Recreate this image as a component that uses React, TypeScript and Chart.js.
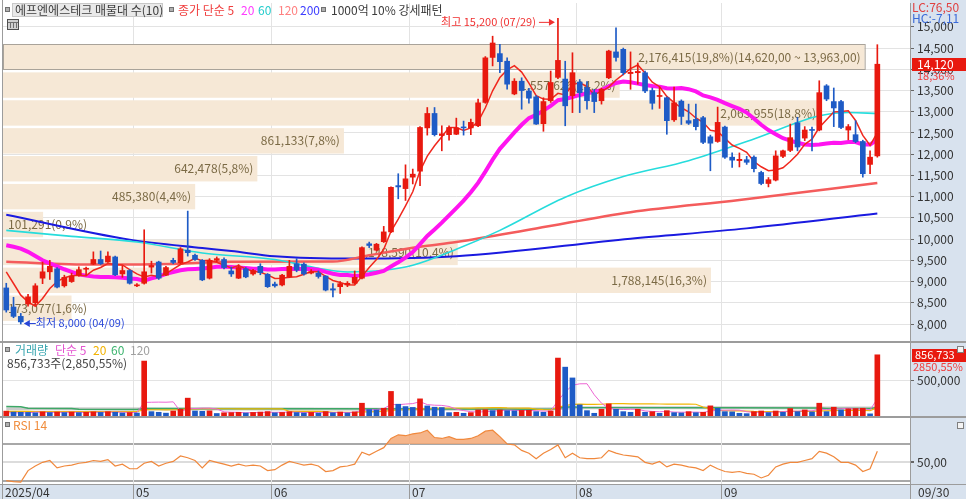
import React, { useEffect, useRef } from 'react';
import { Chart, registerables } from 'chart.js';

Chart.register(...registerables);

const FONT = '"Noto Sans CJK KR", "Noto Sans", sans-serif';
const W = 966;
const XMIN = -0.45;
const XMAX = 124.5;
const AXIS_W = 56;
const PANEL = '#D8E2EE';
const UP = '#E8190F';
const DOWN = '#1E5BC6';
const GRID = '#E3E3E3';
const SEP = '#9C9C9C';

// ---------- categories ----------
const year = '2025';
const monthDays: [string, number[]][] = [
  ['04', [7, 8, 9, 10, 11, 14, 15, 16, 17, 18, 21, 22, 23, 24, 25, 28, 29, 30]],
  ['05', [2, 7, 8, 9, 12, 13, 14, 15, 16, 19, 20, 21, 22, 23, 26, 27, 28, 29, 30]],
  ['06', [2, 4, 5, 9, 10, 11, 12, 13, 16, 17, 18, 19, 20, 23, 24, 25, 26, 27, 30]],
  ['07', [1, 2, 3, 4, 7, 8, 9, 10, 11, 14, 15, 16, 17, 18, 21, 22, 23, 24, 25, 28, 29, 30, 31]],
  ['08', [1, 4, 5, 6, 7, 8, 11, 12, 13, 14, 18, 19, 20, 21, 22, 25, 26, 27, 28, 29]],
  ['09', [1, 2, 3, 4, 5, 8, 9, 10, 11, 12, 15, 16, 17, 18, 19, 22, 23, 24, 25, 26, 29, 30]],
];
const dates: string[] = [];
monthDays.forEach(([m, ds]) => ds.forEach((d) => dates.push(`${m}/${String(d).padStart(2, '0')}`)));

// ---------- price (OHLC) ----------
const opens = [
  8850, 8400, 8180, 8470, 8500, 9080, 9230, 9300, 8900, 9000, 9150, 9290, 9410, 9520, 9460, 9580, 9180, 9260,
  8900, 8960, 9340, 9460, 9150, 9500, 9440, 9740, 9620, 9500, 9080, 9500, 9520, 9250, 9080, 9300, 9180, 9360, 9170,
  8940, 8920, 9110, 9420, 9410, 9200, 9200, 9130, 8830, 8880, 8920, 8960, 9080, 9890, 9740, 9940, 10170, 11260, 11190,
  11460, 11600, 12620, 12960, 12440, 12460, 12470, 12640, 12620, 12670, 13220, 14280, 14370, 14190, 13420, 13720, 13490, 13350, 12720, 13260, 13810, 13770, 13380,
  13700, 13570, 13450, 13260, 13800, 14410, 14470, 13900, 13920, 13920, 13500, 13360, 13330, 12810, 13250, 12790, 12820, 12860, 12410, 12300,
  12640, 11930, 11850, 11870, 11930, 11570, 11310, 11390, 11950, 12090, 12740, 12380, 12580, 12570, 13610, 13240, 13240, 12570, 12460, 12300, 11760, 11960,
];
const highs = [
  8960, 8630, 8250, 8700, 8950, 9460, 9500, 9330, 9150, 9200, 9350, 9340, 9700, 9720, 9700, 9600, 9370, 9280,
  8950, 10220, 9480, 9480, 9360, 9550, 9800, 10660, 9650, 9520, 9540, 9580, 9560, 9340, 9400, 9330, 9290, 9420, 9190,
  8990, 9170, 9500, 9540, 9440, 9280, 9250, 9140, 8950, 9000, 9000, 9250, 9820, 9930, 9900, 10300, 11230, 11540, 11750,
  11650, 12650, 13100, 13100, 12670, 12670, 12850, 12780, 12830, 13300, 14300, 14780, 14590, 14270, 13780, 13800, 13550, 13380, 13330, 13960, 15200, 14190, 14390,
  13760, 13710, 13530, 13560, 14450, 14980, 14500, 14410, 14150, 13960, 13560, 13580, 13350, 13580, 13280, 13180, 13180, 12890, 12450, 13110,
  12660, 12030, 12030, 11950, 11960, 11600, 11450, 12080, 12100, 12710, 12870, 12650, 12640, 13730, 13640, 13560, 13270, 12700, 12790, 12330, 12080, 14580,
];
const lows = [
  8280, 8150, 8000, 8420, 8450, 8950, 9050, 8850, 8870, 8980, 9130, 9150, 9400, 9400, 9450, 9140, 9100, 8940,
  8880, 8940, 9200, 9050, 9140, 9420, 9420, 9600, 9500, 9020, 9060, 9470, 9300, 9120, 9070, 9090, 9150, 9160, 8860,
  8870, 8900, 9090, 9230, 9150, 9180, 9080, 8780, 8640, 8720, 8880, 8940, 9060, 9800, 9720, 9920, 10150, 10950, 10910,
  11300, 11260, 12450, 12430, 12080, 12330, 12460, 12450, 12460, 12650, 13200, 14080, 13920, 13530, 13400, 13060, 13200, 12700, 12540, 13220, 13780, 12670, 12980,
  12980, 13060, 12980, 13180, 13780, 14190, 13870, 13530, 13650, 13450, 13060, 13080, 12470, 12770, 12700, 12700, 12570, 12250, 11610, 12280,
  11900, 11690, 11700, 11760, 11580, 11280, 11230, 11370, 11920, 12060, 12080, 12320, 12080, 12550, 13260, 12650, 12600, 12340, 12270, 11460, 11540, 11930,
];
const closes = [
  8330, 8180, 8050, 8640, 8900, 9230, 9360, 8870, 9100, 9130, 9280, 9310, 9520, 9420, 9600, 9160, 9260, 8960,
  8920, 9230, 9380, 9080, 9330, 9450, 9770, 9680, 9520, 9040, 9500, 9540, 9330, 9180, 9330, 9110, 9260, 9210, 8880,
  8900, 9150, 9360, 9270, 9180, 9230, 9120, 8800, 8800, 8950, 8960, 9100, 9800, 9850, 9880, 10170, 11220, 11230, 11420,
  11530, 12630, 12960, 12460, 12480, 12630, 12620, 12620, 12750, 13210, 14270, 14620, 14180, 13650, 13720, 13500, 13320, 12710, 13240, 13690, 14210, 13140, 13920,
  13450, 13260, 13240, 13530, 14430, 14280, 13920, 13930, 13950, 13490, 13200, 13380, 12790, 13210, 12890, 12730, 12650, 12280, 12260, 12750,
  11930, 11860, 11880, 11810, 11660, 11310, 11400, 11960, 12080, 12390, 12170, 12570, 12560, 13450, 13300, 13090, 12630, 12650, 12300, 11540, 11930, 14120,
];

// moving-average values before enough closes exist
const ma5Lead = [9227, 8955, 8680, 8523];
const ma20Lead = [9854, 9820, 9776, 9700, 9600, 9502, 9430, 9360, 9290, 9230, 9170, 9140, 9120, 9110, 9105, 9100, 9090, 9075, 9060];
// long moving averages at a few candles
const ma60At = [0, 9, 18, 27, 37, 43, 47, 52, 56, 62, 68, 77, 85, 94, 103, 112, 116, 120];
const ma60Val = [10206, 10065, 9931, 9673, 9518, 9314, 9227, 9267, 9384, 9760, 10206, 10987, 11473, 11848, 12358, 12904, 12982, 12958];
const ma120At = [0, 12, 24, 31, 45, 50, 57, 62, 73, 86, 101, 120];
const ma120Val = [9467, 9400, 9420, 9467, 9470, 9620, 9820, 9930, 10250, 10635, 10920, 11320];
const ma200At = [0, 17, 27, 31, 37, 48, 62, 86, 102, 120];
const ma200Val = [10574, 9988, 9790, 9720, 9596, 9542, 9596, 10011, 10253, 10605];

// 매물대 (volume at price), from lowest band to highest band
const bandVolumes = [173077, 1788145, 1148590, 101291, 485380, 642478, 861133, 2063955, 1557626, 2176415];

// ---------- volume ----------
const volumes = [
  68000, 55000, 52000, 50000, 45000, 58000, 48000, 55000, 48000, 55000, 47000, 52000, 58000, 50000, 60000, 52000, 42000, 48000,
  42000, 769000, 61000, 52000, 40000, 70000, 95000, 250000, 70000, 65000, 72000, 35000, 45000, 48000, 52000, 42000, 50000, 55000, 62000,
  45000, 50000, 60000, 48000, 42000, 50000, 40000, 62000, 45000, 55000, 42000, 58000, 179000, 90000, 85000, 108000, 344000, 165000, 132000,
  120000, 240000, 141000, 123000, 118000, 47000, 52000, 38000, 47000, 85000, 88000, 75000, 85000, 75000, 72000, 78000, 80000, 61000, 52000, 70000, 811000, 684000, 533000,
  156000, 75000, 38000, 94000, 170000, 94000, 61000, 52000, 94000, 52000, 61000, 38000, 75000, 47000, 43000, 61000, 47000, 52000, 142000, 108000,
  61000, 58000, 38000, 33000, 61000, 70000, 47000, 70000, 52000, 104000, 61000, 85000, 57000, 179000, 61000, 123000, 85000, 100000, 104000, 108000, 30055, 856733,
];
const vma5Lead = [45000, 45000, 44000, 44000];
const vma20Lead = [65000, 65000, 64000, 64000, 63000, 63000, 62000, 62000, 61000, 61000, 61000, 61000, 61000, 61000, 61000, 61000, 61000, 61000, 61000];
const vma60At = [0, 2, 3, 9, 10, 18, 19, 45, 60, 75, 76, 77, 78, 79, 100, 112, 113, 119, 120];
const vma60Val = [132000, 130000, 110000, 106000, 96000, 92000, 104000, 100000, 98000, 96000, 110000, 121000, 130000, 118000, 115000, 112000, 106000, 104000, 118000];
const vma120At = [0, 30, 60, 76, 78, 100, 120];
const vma120Val = [100000, 98000, 96000, 102000, 116000, 114000, 112000];

// ---------- RSI 14 ----------
const rsi14 = [
  30, 29, 28.5, 41, 46, 50, 52, 44, 46, 47, 49, 50, 52, 51, 53, 46, 48, 43,
  43, 49, 51, 46, 49, 51, 57, 55, 52, 44, 52, 50, 48, 46, 48, 46, 47, 46, 41,
  42, 47, 51, 49, 47, 48, 46, 40, 41, 45, 46, 48, 61, 58, 62, 66, 76, 80, 79,
  81, 82, 85, 77, 76, 78, 75, 75, 76, 79, 84, 85, 78, 70, 69, 63, 60, 54, 60, 64, 69, 55, 60,
  55, 54, 54, 55, 63, 60, 58, 57, 56, 50, 48, 51, 45, 48, 47, 45, 44, 41, 47, 43,
  40, 39, 40, 38, 37, 33, 36, 45, 48, 50, 50, 52, 54, 62, 60, 56, 50, 50, 47, 40, 43, 62,
];

// ---------- axis ticks / texts ----------
const priceTicks = [8000, 8500, 9000, 9500, 10000, 10500, 11000, 11500, 12000, 12500, 13000, 13500, 14000, 14500, 15000];
const volTicks = [500000];
const rsiTicks = [30, 50, 70];
const LC_TEXT = 'LC:76,50';
const HC_TEXT = 'HC:-7,11';

// ---------- helpers ----------
const fmt = (n: number) => Math.round(n).toLocaleString('en-US');
const dec = (n: number, grouped: boolean) =>
  (grouped ? n.toLocaleString('en-US', { minimumFractionDigits: 2, maximumFractionDigits: 2 }) : n.toFixed(2)).replace(/\.(\d\d)$/, ',$1');

function sma(vals: number[], n: number, lead: number[]) {
  return vals.map((_, i) => {
    if (i < n - 1) return lead[i];
    let s = 0;
    for (let k = i - n + 1; k <= i; k++) s += vals[k];
    return s / n;
  });
}
const pts = (vals: number[]) => vals.map((v, i) => ({ x: i, y: v }));
const ptsAt = (at: number[], vals: number[]) => at.map((x, i) => ({ x, y: vals[i] }));

const monthStart: number[] = [];
dates.forEach((d, i) => {
  if (i === 0 || d.slice(0, 2) !== dates[i - 1].slice(0, 2)) monthStart.push(i);
});

function txt(ctx: CanvasRenderingContext2D, s: string, x: number, y: number, color: string, size = 12, align: CanvasTextAlign = 'left') {
  ctx.save();
  ctx.font = `${size}px ${FONT}`;
  ctx.fillStyle = color;
  ctx.textAlign = align;
  ctx.textBaseline = 'middle';
  ctx.fillText(s, x, y);
  ctx.restore();
}
function textWidth(ctx: CanvasRenderingContext2D, s: string, size = 12) {
  ctx.save();
  ctx.font = `${size}px ${FONT}`;
  const w = ctx.measureText(s).width;
  ctx.restore();
  return w;
}
function square(ctx: CanvasRenderingContext2D, x: number, y: number) {
  ctx.save();
  ctx.fillStyle = '#B0B0B0';
  ctx.fillRect(x, y, 5, 5);
  ctx.strokeStyle = '#707070';
  ctx.lineWidth = 1;
  ctx.strokeRect(x + 0.5, y + 0.5, 4, 4);
  ctx.restore();
}
function hline(ctx: CanvasRenderingContext2D, x0: number, x1: number, y: number, color: string, w: number) {
  ctx.save();
  ctx.fillStyle = color;
  ctx.fillRect(x0, y, x1 - x0, w);
  ctx.restore();
}
function monthLines(chart: any, color: string) {
  const { ctx, chartArea: a, scales } = chart;
  ctx.save();
  ctx.strokeStyle = color;
  ctx.lineWidth = 1;
  monthStart.slice(1).forEach((i) => {
    const px = Math.round(scales.x.getPixelForValue(i - 0.5)) + 0.5;
    ctx.beginPath();
    ctx.moveTo(px, a.top);
    ctx.lineTo(px, a.bottom);
    ctx.stroke();
  });
  ctx.restore();
}
function paintBg(chart: any) {
  const { ctx, chartArea: a, height } = chart;
  ctx.save();
  ctx.fillStyle = '#FFFFFF';
  ctx.fillRect(0, 0, W, height);
  ctx.fillStyle = PANEL;
  ctx.fillRect(a.right, 0, W - a.right, height);
  ctx.fillStyle = SEP;
  ctx.fillRect(2, 0, 1, height);
  ctx.restore();
}
function cornerIcon(ctx: CanvasRenderingContext2D, x: number, y: number) {
  ctx.save();
  ctx.fillStyle = '#F4F4F4';
  ctx.fillRect(x, y, 7, 7);
  ctx.strokeStyle = '#808080';
  ctx.strokeRect(x + 0.5, y + 0.5, 6, 6);
  ctx.restore();
}
const line = (data: any[], color: string, width: number, order: number, smooth = false) => ({
  type: 'line',
  data,
  borderColor: color,
  borderWidth: width,
  pointRadius: 0,
  fill: false,
  order,
  cubicInterpolationMode: smooth ? 'monotone' : 'default',
  tension: 0,
});
const fitAxis = (s: any) => {
  s.width = AXIS_W;
  s.paddingTop = 0;
  s.paddingBottom = 0;
};
const xScale = { type: 'linear', min: XMIN, max: XMAX, offset: false, display: false };
const baseOpts = {
  animation: false,
  responsive: false,
  devicePixelRatio: 1,
  events: [],
  plugins: { legend: { display: false }, tooltip: { enabled: false } },
};

// ---------- price chart ----------
const pricePlugin = {
  id: 'pricePane',
  beforeDraw: (chart: any) => paintBg(chart),
  beforeDatasetsDraw: (chart: any) => {
    const { ctx, chartArea: a, scales } = chart;
    monthLines(chart, GRID);
    const cMin = Math.min(...closes);
    const cMax = Math.max(...closes);
    const step = (cMax - cMin) / bandVolumes.length;
    const maxV = Math.max(...bandVolumes);
    const total = bandVolumes.reduce((s, v) => s + v, 0);
    bandVolumes.forEach((v, k) => {
      const lo = cMin + k * step;
      const hi = lo + step;
      const yt = scales.y.getPixelForValue(hi) + 1.5;
      const yb = scales.y.getPixelForValue(lo) - 1;
      const len = (v / maxV) * (a.right - a.left) * 0.95;
      ctx.save();
      ctx.fillStyle = '#F6E8D6';
      ctx.fillRect(a.left, yt, len, yb - yt);
      const pct = ((v / total) * 100).toFixed(1).replace('.', ',');
      let label = `${fmt(v)}(${pct}%)`;
      if (v === maxV) {
        label += `(${dec(hi, true)} ~ ${dec(lo, true)})`;
        ctx.strokeStyle = '#A9A39A';
        ctx.lineWidth = 1;
        ctx.strokeRect(a.left + 0.5, Math.round(yt) + 0.5, len, Math.round(yb - yt));
      }
      ctx.restore();
      const tw = textWidth(ctx, label);
      const tx = Math.max(a.left + 5, a.left + len - 4 - tw);
      txt(ctx, label, tx, (yt + yb) / 2, '#7B6A45', 12, 'left');
    });
  },
  afterDraw: (chart: any) => {
    const { ctx, chartArea: a, scales } = chart;
    // legend row
    ctx.save();
    ctx.fillStyle = '#E9E9E9';
    ctx.fillRect(12, 3, 151, 14);
    ctx.strokeStyle = '#C8C8C8';
    ctx.strokeRect(12.5, 3.5, 150, 13);
    ctx.restore();
    square(ctx, 5, 7);
    txt(ctx, '에프엔에스테크 매물대 수(10)', 15, 10.5, '#3C3C3C');
    square(ctx, 169, 7);
    txt(ctx, '종가 단순 5', 178, 10.5, '#F03C3C');
    txt(ctx, '20', 241, 10.5, '#FF3CFF');
    txt(ctx, '60', 258, 10.5, '#22CCCC');
    txt(ctx, '120', 278, 10.5, '#FF8080');
    txt(ctx, '200', 300, 10.5, '#3C3CFF');
    square(ctx, 321, 7);
    txt(ctx, '1000억 10% 강세패턴', 331, 10.5, '#3C3C3C');
    // little table icon
    ctx.save();
    ctx.fillStyle = '#D0D0D0';
    ctx.fillRect(7, 19, 12, 11);
    ctx.strokeStyle = '#505050';
    ctx.strokeRect(7.5, 19.5, 11, 10);
    ctx.fillStyle = '#707070';
    [10, 13, 16].forEach((x) => ctx.fillRect(x, 22, 1, 6));
    ctx.fillRect(8, 22, 10, 1);
    ctx.restore();

    // highest / lowest
    let hiIdx = 0;
    let loIdx = 0;
    highs.forEach((v, i) => { if (v > highs[hiIdx]) hiIdx = i; });
    lows.forEach((v, i) => { if (v < lows[loIdx]) loIdx = i; });
    const hx = scales.x.getPixelForValue(hiIdx);
    const hy = scales.y.getPixelForValue(highs[hiIdx]) + 3.5;
    txt(ctx, `최고 ${fmt(highs[hiIdx])} (${dates[hiIdx]})`, hx - 22, hy, '#F03030', 11, 'right');
    ctx.save();
    ctx.strokeStyle = '#F03030';
    ctx.fillStyle = '#F03030';
    ctx.lineWidth = 1;
    ctx.beginPath();
    ctx.moveTo(hx - 19, hy + 0.5);
    ctx.lineTo(hx - 7, hy + 0.5);
    ctx.stroke();
    ctx.beginPath();
    ctx.moveTo(hx - 3, hy + 0.5);
    ctx.lineTo(hx - 9, hy - 3);
    ctx.lineTo(hx - 9, hy + 4);
    ctx.closePath();
    ctx.fill();
    ctx.restore();
    const lx = scales.x.getPixelForValue(loIdx);
    const ly = scales.y.getPixelForValue(lows[loIdx]) - 1;
    ctx.save();
    ctx.strokeStyle = '#2846D8';
    ctx.fillStyle = '#2846D8';
    ctx.beginPath();
    ctx.moveTo(lx + 8, ly + 0.5);
    ctx.lineTo(lx + 15, ly + 0.5);
    ctx.stroke();
    ctx.beginPath();
    ctx.moveTo(lx + 3, ly + 0.5);
    ctx.lineTo(lx + 9, ly - 3);
    ctx.lineTo(lx + 9, ly + 4);
    ctx.closePath();
    ctx.fill();
    ctx.restore();
    txt(ctx, `최저 ${fmt(lows[loIdx])} (${dates[loIdx]})`, lx + 15, ly, '#2846D8', 11);

    // right panel labels
    ctx.save();
    ctx.fillStyle = PANEL;
    ctx.fillRect(a.right + 1, 0, W - a.right, 22);
    ctx.restore();
    txt(ctx, LC_TEXT, a.right + 2, 7, '#E04040');
    txt(ctx, HC_TEXT, a.right + 2, 18, '#3A6AD8');
    const last = closes.length - 1;
    const cy = scales.y.getPixelForValue(closes[last]);
    ctx.save();
    ctx.fillStyle = UP;
    ctx.fillRect(a.right + 2, Math.round(cy) - 6, W - a.right - 2, 13);
    ctx.restore();
    txt(ctx, fmt(closes[last]), a.right + 7, cy + 0.5, '#FFFFFF');
    const chg = ((closes[last] / closes[last - 1] - 1) * 100).toFixed(2).replace('.', ',');
    txt(ctx, `${chg}%`, a.right + 7, cy + 12, '#F04040', 11);
    // pane separator
    hline(ctx, 0, W, chart.height - 1, SEP, 1);
  },
};

function priceConfig(): any {
  const ix = closes.map((_, i) => i);
  const colors = ix.map((i) => (closes[i] >= opens[i] ? UP : DOWN));
  return {
    type: 'bar',
    data: {
      datasets: [
        {
          type: 'bar',
          data: ix.map((i) => ({ x: i, y: [Math.min(opens[i], closes[i]), Math.max(opens[i], closes[i])] })),
          backgroundColor: colors,
          borderWidth: 0,
          barThickness: 5,
          grouped: false,
          minBarLength: 1,
          order: 0,
        },
        {
          type: 'bar',
          data: ix.map((i) => ({ x: i, y: [lows[i], highs[i]] })),
          backgroundColor: colors,
          borderWidth: 0,
          barThickness: 1,
          grouped: false,
          order: 1,
        },
        line(pts(sma(closes, 5, ma5Lead)), '#F0281E', 1.5, 2),
        line(pts(sma(closes, 20, ma20Lead)), '#FF14F0', 4, 3),
        line(ptsAt(ma60At, ma60Val), '#26DCDC', 1.6, 4, true),
        line(ptsAt(ma120At, ma120Val), '#F45C5C', 2.5, 5, true),
        line(ptsAt(ma200At, ma200Val), '#1A1AE0', 2, 6, true),
      ],
    },
    options: {
      ...baseOpts,
      layout: { padding: { left: 3, top: 3, right: 0, bottom: 1 } },
      scales: {
        x: xScale,
        y: {
          position: 'right',
          min: 7600,
          max: 15562,
          beginAtZero: false,
          afterFit: fitAxis,
          afterBuildTicks: (s: any) => { s.ticks = priceTicks.map((v) => ({ value: v })); },
          ticks: { font: { family: FONT, size: 12 }, color: '#333333', padding: 3, callback: (v: number) => fmt(v) },
          grid: { color: GRID, tickLength: 4, tickColor: '#666666' },
          border: { color: SEP, width: 1 },
        },
      },
    },
    plugins: [pricePlugin],
  };
}

// ---------- volume chart ----------
const volPlugin = {
  id: 'volPane',
  beforeDraw: (chart: any) => paintBg(chart),
  beforeDatasetsDraw: (chart: any) => monthLines(chart, GRID),
  afterDraw: (chart: any) => {
    const { ctx, chartArea: a, scales } = chart;
    hline(ctx, 0, W, 0, SEP, 1);
    square(ctx, 5, 5);
    txt(ctx, '거래량', 15, 8, '#3AA6B0');
    txt(ctx, '단순 5', 55, 8, '#E455D0');
    txt(ctx, '20', 93, 8, '#F2B200');
    txt(ctx, '60', 111, 8, '#3CB46E');
    txt(ctx, '120', 130, 8, '#A0A0A0');
    const last = volumes.length - 1;
    const ratio = (volumes[last] / volumes[last - 1]) * 100;
    txt(ctx, `${fmt(volumes[last])}주(${dec(ratio, true)}%)`, 7, 21, '#444444');
    const vy = scales.y.getPixelForValue(volumes[last]);
    ctx.save();
    ctx.fillStyle = UP;
    ctx.fillRect(a.right + 2, Math.round(vy) - 6, W - a.right - 2, 13);
    ctx.restore();
    txt(ctx, fmt(volumes[last]), a.right + 5, vy + 0.5, '#FFFFFF', 11);
    txt(ctx, `${dec(ratio, false)}%`, a.right + 3, vy + 12, '#F04040', 11);
    cornerIcon(ctx, 957, 4);
    hline(ctx, 0, W, chart.height - 2, SEP, 2);
  },
};

function volConfig(): any {
  const colors = volumes.map((v, i) => (i === 0 || v >= volumes[i - 1] ? UP : DOWN));
  return {
    type: 'bar',
    data: {
      datasets: [
        {
          type: 'bar',
          data: pts(volumes),
          backgroundColor: colors,
          borderWidth: 0,
          barThickness: 5,
          grouped: false,
          order: 0,
        },
        line(pts(sma(volumes, 5, vma5Lead)), '#EE66D4', 1, 1),
        line(pts(sma(volumes, 20, vma20Lead)), '#F2B705', 1.2, 2),
        line(ptsAt(vma60At, vma60Val), '#3DA866', 1.5, 3),
        line(ptsAt(vma120At, vma120Val), 'rgba(160,160,160,0.55)', 3, 4, true),
      ],
    },
    options: {
      ...baseOpts,
      layout: { padding: { left: 3, top: 1, right: 0, bottom: 2 } },
      scales: {
        x: xScale,
        y: {
          position: 'right',
          min: 0,
          max: 1022000,
          afterFit: fitAxis,
          afterBuildTicks: (s: any) => { s.ticks = volTicks.map((v) => ({ value: v })); },
          ticks: { font: { family: FONT, size: 12 }, color: '#333333', padding: 3, callback: (v: number) => fmt(v) },
          grid: { color: GRID, tickLength: 4, tickColor: '#666666' },
          border: { color: SEP, width: 1 },
        },
      },
    },
    plugins: [volPlugin],
  };
}

// ---------- RSI chart + date axis ----------
const rsiPlugin = {
  id: 'rsiPane',
  beforeDraw: (chart: any) => paintBg(chart),
  beforeDatasetsDraw: (chart: any) => monthLines(chart, GRID),
  afterDraw: (chart: any) => {
    const { ctx, chartArea: a, scales } = chart;
    square(ctx, 5, 4);
    txt(ctx, 'RSI 14', 13, 7.5, '#F08C3C');
    cornerIcon(ctx, 957, 4);
    // date axis
    const top = a.bottom;
    ctx.save();
    ctx.fillStyle = PANEL;
    ctx.fillRect(0, top, W, chart.height - top);
    ctx.restore();
    hline(ctx, 0, W, top, SEP, 1);
    ctx.save();
    ctx.fillStyle = '#9A9A9A';
    monthStart.forEach((i, k) => {
      const px = k === 0 ? 2 : Math.round(scales.x.getPixelForValue(i - 0.5));
      ctx.fillRect(px, top, 1, chart.height - top);
      const m = dates[i].slice(0, 2);
      txt(ctx, k === 0 ? `${year}/${m}` : m, px + 3, top + 8, '#333333');
    });
    ctx.fillRect(a.right, top, 1, chart.height - top);
    ctx.restore();
    txt(ctx, dates[dates.length - 1], a.right + 8, top + 8, '#333333');
  },
};

function rsiConfig(): any {
  return {
    type: 'line',
    data: {
      datasets: [
        {
          data: pts(rsi14),
          borderColor: '#F0883C',
          borderWidth: 1.2,
          pointRadius: 0,
          tension: 0,
          fill: { target: { value: 70 }, above: 'rgba(243,168,118,0.85)', below: 'rgba(0,0,0,0)' },
        },
      ],
    },
    options: {
      ...baseOpts,
      layout: { padding: { left: 3, top: 0, right: 0, bottom: 15 } },
      scales: {
        x: xScale,
        y: {
          position: 'right',
          min: 26.4,
          max: 98.3,
          afterFit: fitAxis,
          afterBuildTicks: (s: any) => { s.ticks = rsiTicks.map((v) => ({ value: v })); },
          ticks: {
            font: { family: FONT, size: 12 },
            color: '#333333',
            padding: 3,
            callback: (v: number) => (v === 50 ? dec(v, false) : ''),
          },
          grid: {
            color: (c: any) => (c.tick && c.tick.value === 50 ? '#DCDCDC' : '#A8A8A8'),
            lineWidth: 2,
            tickLength: 4,
            tickColor: (c: any) => (c.tick && c.tick.value === 50 ? '#666666' : 'rgba(0,0,0,0)'),
          },
          border: { color: SEP, width: 1 },
        },
      },
    },
    plugins: [rsiPlugin],
  };
}

export default function App() {
  const priceRef = useRef<HTMLCanvasElement>(null);
  const volRef = useRef<HTMLCanvasElement>(null);
  const rsiRef = useRef<HTMLCanvasElement>(null);

  useEffect(() => {
    document.body.style.margin = '0';
    const charts: Chart[] = [];
    if (priceRef.current) charts.push(new Chart(priceRef.current, priceConfig()));
    if (volRef.current) charts.push(new Chart(volRef.current, volConfig()));
    if (rsiRef.current) charts.push(new Chart(rsiRef.current, rsiConfig()));
    return () => charts.forEach((c) => c.destroy());
  }, []);

  return (
    <div style={{ position: 'relative', width: W, height: 499, background: '#FFFFFF', overflow: 'hidden' }}>
      <canvas ref={priceRef} width={W} height={342} style={{ position: 'absolute', left: 0, top: 0, width: W, height: 342 }} />
      <canvas ref={volRef} width={W} height={76} style={{ position: 'absolute', left: 0, top: 342, width: W, height: 76 }} />
      <canvas ref={rsiRef} width={W} height={81} style={{ position: 'absolute', left: 0, top: 418, width: W, height: 81 }} />
    </div>
  );
}
